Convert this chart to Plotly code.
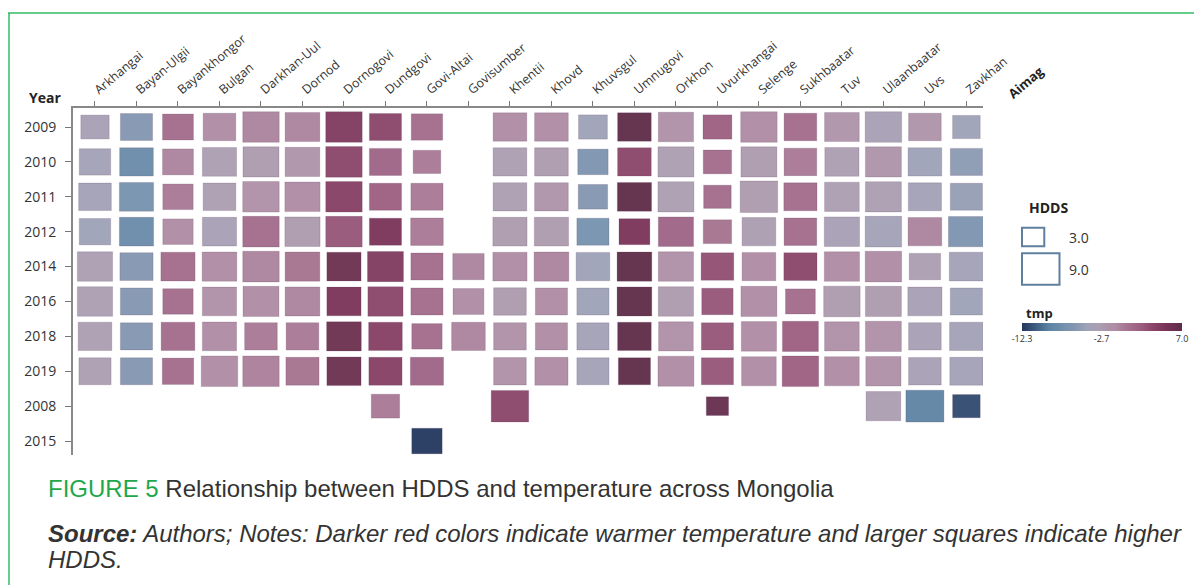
import plotly.graph_objects as go

aimags = ["Arkhangai", "Bayan-Ulgii", "Bayankhongor", "Bulgan", "Darkhan-Uul", "Dornod",
          "Dornogovi", "Dundgovi", "Govi-Altai", "Govisumber", "Khentii", "Khovd", "Khuvsgul",
          "Umnugovi", "Orkhon", "Uvurkhangai", "Selenge", "Sukhbaatar", "Tuv", "Ulaanbaatar",
          "Uvs", "Zavkhan"]
years = ["2009", "2010", "2011", "2012", "2014", "2016", "2018", "2019", "2008", "2015"]

N = None
tmp_2009 = [-3.5, -6, 1, -1, -0.5, -0.5, 4.5, 3.5, 1, N, -1, -1, -4.5, 7, -1.5, 2, -1, 1, -2, -3.5, -2, -4.5]
tmp_2010 = [-4, -8, -0.5, -3, -2.5, -2, 3.5, 1.5, 0, N, -3, -2.5, -6.5, 3.5, -3, 1, -2.5, 0, -3, -2, -4.5, -5.5]
tmp_2011 = [-4, -7, 0, -3, -1.5, -1, 4, 2, 0, N, -3, -2, -6, 7, -3, 1, -2.5, 1, -3, -3, -4, -5]
tmp_2012 = [-4.5, -8, -1, -3.5, 1, -2.5, 2.5, 5, 0, N, -2.5, -2.5, -7, 5, 1.5, 0.5, -2.8, 1, -3.5, -4, -0.5, -6.5]
tmp_2014 = [-3, -6, 1, -1, -0.5, 0.5, 6, 4.5, 1, -0.5, -1, -0.5, -4.5, 7, -1.5, 3, -1, 3.5, -1, -1, -3, -4]
tmp_2016 = [-3, -6, 1, -1.5, -1, -0.5, 5, 3.5, 1, -1, -2.5, -1, -4.5, 7, -2.5, 2.5, -1, 1, -2.5, -2.5, -3.5, -4.5]
tmp_2018 = [-3, -6, 1, -1, 0, 0, 6, 4, 1, -0.5, -1.5, -1, -4, 7, -1.5, 2.5, -1, 2, -1.5, -1.5, -3.5, -4]
tmp_2019 = [-3, -6, 1, -1, -0.3, 0.5, 6, 4, 1.5, N, -1.5, -1, -4, 7, -1, 2.5, -1, 2, -1, -1.5, -3.5, -4]
tmp_2008 = [N, N, N, N, N, N, N, 0, N, N, 3.5, N, N, N, N, 6.5, N, N, N, -3, -9, -11.5]
tmp_2015 = [N, N, N, N, N, N, N, N, -12.3, N, N, N, N, N, N, N, N, N, N, N, N, N]

hdds_2009 = [5.4, 6.9, 6.4, 7.1, 8.6, 7.9, 8.6, 6.9, 6.6, N, 7.5, 7.5, 5.6, 7.5, 8.1, 5.6, 8.6, 7.1, 7.9, 8.6, 7.1, 5.1]
hdds_2010 = [6.6, 7.5, 6.4, 7.7, 8.4, 7.9, 8.6, 6.9, 5.1, N, 7.5, 7.5, 6.2, 7.5, 8.4, 5.4, 8.4, 7.1, 7.7, 8.4, 7.5, 6.9]
hdds_2011 = [7.1, 7.7, 6.2, 7.1, 8.6, 8.1, 8.6, 6.9, 6.9, N, 7.5, 7.5, 5.8, 7.7, 8.4, 5.1, 9.0, 7.3, 7.9, 8.4, 7.3, 6.9]
hdds_2012 = [6.6, 7.7, 6.2, 7.7, 8.6, 8.1, 8.6, 6.9, 7.1, N, 7.7, 7.7, 6.9, 6.4, 8.1, 5.4, 7.5, 7.1, 8.1, 8.6, 7.5, 8.4]
hdds_2014 = [8.1, 7.3, 7.7, 7.9, 8.6, 7.9, 7.7, 8.4, 6.9, 6.6, 7.7, 7.9, 7.5, 7.9, 8.1, 7.1, 7.5, 7.3, 8.1, 8.6, 6.6, 7.7]
hdds_2016 = [8.1, 6.9, 6.2, 7.7, 8.4, 7.9, 7.7, 8.1, 6.9, 6.4, 7.1, 6.9, 6.9, 7.9, 8.1, 6.6, 8.4, 6.0, 8.6, 8.4, 7.7, 6.9]
hdds_2018 = [7.5, 6.9, 7.5, 7.7, 7.1, 7.1, 7.9, 7.5, 6.2, 7.5, 7.1, 6.9, 6.9, 7.5, 7.9, 6.9, 8.1, 8.4, 7.9, 8.4, 7.1, 7.5]
hdds_2019 = [6.9, 6.9, 6.6, 8.6, 8.6, 7.3, 7.7, 7.3, 7.3, N, 7.1, 7.3, 6.9, 6.9, 8.4, 6.9, 7.9, 8.6, 7.9, 8.1, 7.1, 7.3]
hdds_2008 = [N, N, N, N, N, N, N, 5.4, N, N, 9.0, N, N, N, N, 3.0, N, N, N, 7.9, 9.2, 5.1]
hdds_2015 = [N, N, N, N, N, N, N, N, 6.2, N, N, N, N, N, N, N, N, N, N, N, N, N]

tmp_rows = [tmp_2009, tmp_2010, tmp_2011, tmp_2012, tmp_2014, tmp_2016, tmp_2018, tmp_2019, tmp_2008, tmp_2015]
hdds_rows = [hdds_2009, hdds_2010, hdds_2011, hdds_2012, hdds_2014, hdds_2016, hdds_2018, hdds_2019, hdds_2008, hdds_2015]

legend_hdds = [3.0, 9.0]
tmp_ticks = [-12.3, -2.7, 7.0]
TMIN, TMAX = -12.3, 7.0

# colour scale (value -> colour)
scale_vals = [-12.3, -9, -7, -6, -4.5, -3, -2, -1, 0, 1, 2, 3.5, 5, 7]
scale_cols = ["#22375e", "#5d83a3", "#7692ae", "#8396b0", "#9ea2b8", "#ab9eb2", "#ad93a8",
              "#ae8ca4", "#a87894", "#a26b8a", "#9c5d80", "#8a4569", "#7a3358", "#5e2c48"]
colorscale = [[(v - TMIN) / (TMAX - TMIN), c] for v, c in zip(scale_vals, scale_cols)]

# the page body has an 8px margin: figure is drawn 8px in from the window edge
OFF = 8
W, H = 1202 - OFF, 585 - OFF
ML, MT = 73 - OFF, 108 - OFF
MR, MB = W - (983 - OFF), H - (455 - OFF)
PW, PH = W - ML - MR, H - MT - MB
XR = [-0.53, 21.4]
YR = [9.4, -0.545]
XU = PW / (XR[1] - XR[0])      # px per category step (x)
YU = PH / (YR[0] - YR[1])      # px per category step (y)


def rect_w(h):   # rectangle width in px for an HDDS value
    return (13.5 + 2.333 * h) / 0.92


def rect_h(h):   # rectangle height in px
    return 0.84 * rect_w(h)


def px(x):  # window pixel -> paper
    return (x - OFF - ML) / PW


def py(y):
    return (H - MB - (y - OFF)) / PH


xs, bases, heights, widths, cs, hs = [], [], [], [], [], []
for yi, (trow, hrow) in enumerate(zip(tmp_rows, hdds_rows)):
    for a, t, h in zip(aimags, trow, hrow):
        if t is None or h is None:
            continue
        hd = rect_h(h) / YU
        xs.append(a)
        bases.append(yi - hd / 2)
        heights.append(hd)
        widths.append(rect_w(h) / XU)
        cs.append(t)
        hs.append([years[yi], h, t])

fig = go.Figure()
fig.add_trace(go.Bar(
    x=xs, y=heights, base=bases, width=widths,
    customdata=hs,
    marker=dict(color=cs, colorscale=colorscale, cmin=TMIN, cmax=TMAX, opacity=0.95,
                line=dict(width=1, color="rgba(70,40,70,0.18)"),
                colorbar=dict(orientation="h", x=px(1102), xanchor="center",
                              y=py(323), yanchor="top", xpad=0, ypad=0,
                              len=160, lenmode="pixels", thickness=8, outlinewidth=0,
                              tickvals=tmp_ticks, ticktext=[f"{v:.1f}" for v in tmp_ticks],
                              ticks="", tickfont=dict(size=9, color="#333", family="Open Sans"))),
    hovertemplate="%{x} %{customdata[0]}<br>HDDS %{customdata[1]}<br>tmp %{customdata[2]}<extra></extra>",
    showlegend=False))

axis_font = dict(family="Open Sans", size=12.5, color="#333")
fig.update_xaxes(type="category", categoryorder="array", categoryarray=aimags,
                 side="top", tickangle=-40, ticks="outside", ticklen=5, tickcolor="#777",
                 showline=True, linecolor="#888", linewidth=1.5, showgrid=False, zeroline=False,
                 range=XR, tickfont=axis_font, automargin=False)
fig.update_yaxes(type="linear", tickmode="array", tickvals=list(range(len(years))), ticktext=years,
                 ticks="outside", ticklen=6, tickcolor="#777", ticklabelstandoff=6,
                 showline=True, linecolor="#888", linewidth=2, showgrid=False, zeroline=False,
                 range=YR, tickfont=dict(family="Open Sans", size=14, color="#333"),
                 automargin=False)

shapes = [
    dict(type="line", xref="paper", yref="paper", x0=px(8), x1=px(1202), y0=py(13), y1=py(13),
         line=dict(color="#33bb66", width=1.5)),
    dict(type="line", xref="paper", yref="paper", x0=px(9), x1=px(9), y0=py(13), y1=py(585),
         line=dict(color="#33bb66", width=1.5)),
]
# size legend rectangles
leg_y = [237, 269]
for v, yc in zip(legend_hdds, leg_y):
    sw, sh = rect_w(v), rect_h(v)
    shapes.append(dict(type="rect", xref="paper", yref="paper", xsizemode="pixel", ysizemode="pixel",
                       xanchor=px(1022), yanchor=py(yc), x0=0, x1=sw, y0=-sh / 2, y1=sh / 2,
                       line=dict(color="#5f7f9f", width=2), fillcolor="white"))

ann = [
    dict(text="<b>Year</b>", x=px(27), y=py(98), xanchor="left", yanchor="middle",
         font=dict(family="Open Sans", size=14, color="#222")),
    dict(text="<b>Aimag</b>", x=px(1026), y=py(82), xanchor="center", yanchor="middle", textangle=-40,
         font=dict(family="Open Sans", size=13, color="#222")),
    dict(text="<b>HDDS</b>", x=px(1027), y=py(207), xanchor="left", yanchor="middle",
         font=dict(family="Open Sans", size=14, color="#222")),
    dict(text="<b>tmp</b>", x=px(1024), y=py(313), xanchor="left", yanchor="middle",
         font=dict(family="Open Sans", size=13, color="#222")),
]
for v, yc in zip(legend_hdds, leg_y):
    ann.append(dict(text=f"{v:.1f}", x=px(1067), y=py(yc), xanchor="left", yanchor="middle",
                    font=dict(family="Open Sans", size=14, color="#333")))
cap_font = dict(family="Liberation Sans", size=24, color="#333")
ann += [
    dict(text="<span style='color:#1ea84b'>FIGURE 5</span> Relationship between HDDS and temperature across Mongolia",
         x=px(46), y=py(488), xanchor="left", yanchor="middle", font=cap_font),
    dict(text="<b><i>Source:</i></b><i> Authors; Notes: Darker red colors indicate warmer temperature and larger squares indicate higher</i>",
         x=px(46), y=py(533), xanchor="left", yanchor="middle", font=cap_font),
    dict(text="<i>HDDS.</i>", x=px(46), y=py(559), xanchor="left", yanchor="middle", font=cap_font),
]
for a in ann:
    a.update(xref="paper", yref="paper", showarrow=False)

fig.update_layout(width=W, height=H, margin=dict(l=ML, r=MR, t=MT, b=MB, autoexpand=False),
                  paper_bgcolor="white", plot_bgcolor="white", barmode="overlay",
                  shapes=shapes, annotations=ann, font=dict(family="Open Sans"))

fig.write_html("out.html")
